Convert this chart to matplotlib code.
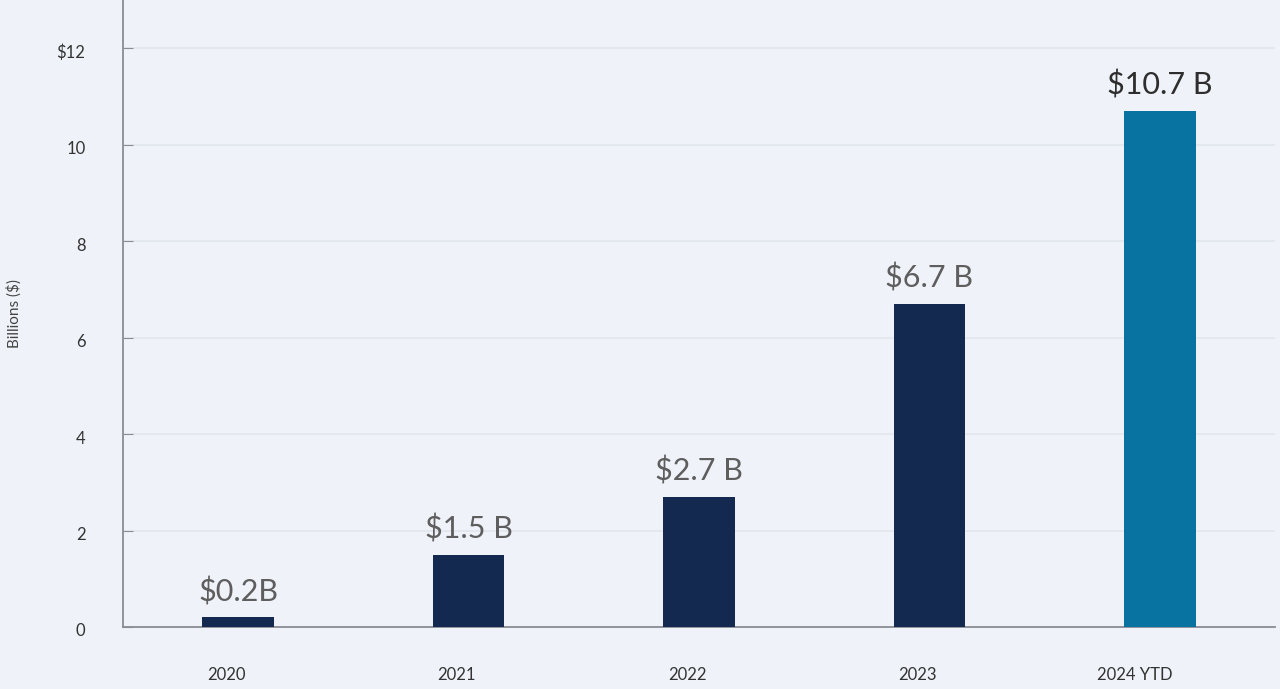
import matplotlib
matplotlib.use("Agg")
import matplotlib.pyplot as plt
from matplotlib.transforms import ScaledTranslation

categories = ["2020", "2021", "2022", "2023", "2024 YTD"]
values = [0.2, 1.5, 2.7, 6.7, 10.7]
labels = ["$0.2B", "$1.5 B", "$2.7 B", "$6.7 B", "$10.7 B"]
yticks = [0, 2, 4, 6, 8, 10, 12]
ytick_labels = ["0", "2", "4", "6", "8", "10", "$12"]

bg = "#eff3f9"
colors = ["#13294f"] * 4 + ["#0873a0"]
label_colors = ["#5e5e5e"] * 4 + ["#2e2e2e"]

plt.rcParams['font.family'] = ['Lato', 'DejaVu Sans']

fig = plt.figure(figsize=(12.8, 6.89), dpi=100, facecolor=bg)
ax = fig.add_axes([0.0961, 0.09, 0.9, 0.91])
ax.set_facecolor(bg)

x = list(range(len(categories)))
ax.bar(x, values, width=0.31, color=colors, zorder=3)
for xi, v, lab, c in zip(x, values, labels, label_colors):
    ax.annotate(lab, (xi, v), xytext=(0, 8), textcoords="offset points",
                ha="center", va="bottom", fontsize=22, color=c,
                fontweight="normal", zorder=4)

ax.set_xlim(-0.5, 4.5)
ax.set_ylim(0, 13)
ax.set_yticks(yticks)
ax.set_yticklabels(ytick_labels)
ax.set_xticks(x)
ax.set_xticklabels(categories)
ax.yaxis.grid(True, color="#e1e6ee", linewidth=1.2, zorder=0)
ax.set_axisbelow(True)

for s in ["top", "right"]:
    ax.spines[s].set_visible(False)
for s in ["left", "bottom"]:
    ax.spines[s].set_color("#8a8d92")
    ax.spines[s].set_linewidth(1.3)

ax.tick_params(axis="y", direction="in", length=7, color="#8a8d92",
               labelsize=12, labelcolor="#333333", pad=27)
for t in ax.get_yticklabels():
    t.set_transform(t.get_transform() + ScaledTranslation(0, -3 / 100, fig.dpi_scale_trans))
ax.tick_params(axis="x", length=0, labelsize=12, labelcolor="#333333", pad=29)
shifts = [-12, -12, -12, -12, -25]
for t, sh in zip(ax.get_xticklabels(), shifts):
    t.set_transform(t.get_transform() + ScaledTranslation(sh / 100, 0, fig.dpi_scale_trans))
ax.set_ylabel("Billions ($)", fontsize=11, color="#444444")
ax.yaxis.set_label_coords(-0.088, 0.5)

fig.savefig("out.png", dpi=100, facecolor=bg)
